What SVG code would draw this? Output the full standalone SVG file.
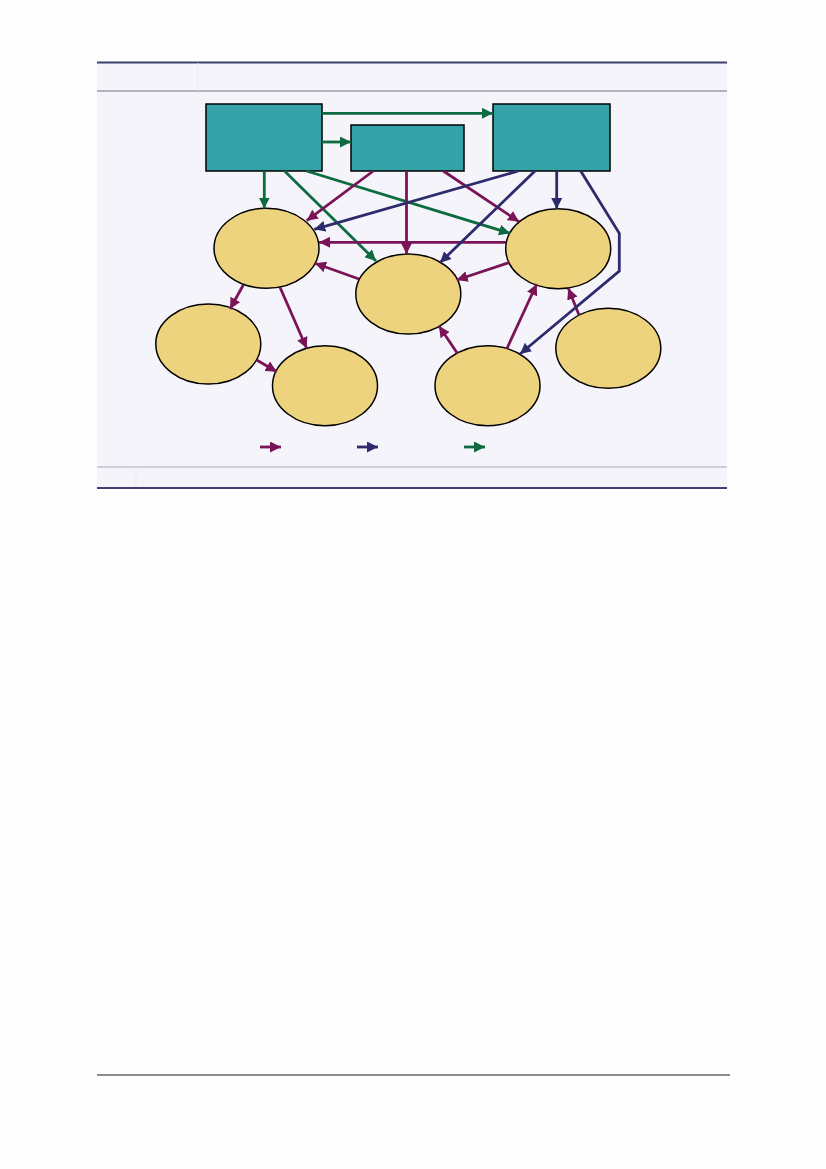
<svg xmlns="http://www.w3.org/2000/svg" width="826" height="1169" viewBox="0 0 826 1169">
<style>
.box{fill:#33a3a7;stroke:#000;stroke-width:1.5}
.ell{fill:#eed37e;stroke:#000;stroke-width:1.5}
.m{stroke:#7b1456;stroke-width:2.8;fill:none;marker-end:url(#am)}
.n{stroke:#2d2b6b;stroke-width:2.8;fill:none;marker-end:url(#an)}
.g{stroke:#0e6b41;stroke-width:2.8;fill:none;marker-end:url(#ag)}
</style>
<defs>
<marker id="am" viewBox="0 0 10 10" refX="10" refY="5" markerWidth="11" markerHeight="11" markerUnits="userSpaceOnUse" orient="auto"><path d="M0,0 L10,5 L0,10 z" fill="#7b1456"/></marker>
<marker id="an" viewBox="0 0 10 10" refX="10" refY="5" markerWidth="11" markerHeight="11" markerUnits="userSpaceOnUse" orient="auto"><path d="M0,0 L10,5 L0,10 z" fill="#2d2b6b"/></marker>
<marker id="ag" viewBox="0 0 10 10" refX="10" refY="5" markerWidth="11" markerHeight="11" markerUnits="userSpaceOnUse" orient="auto"><path d="M0,0 L10,5 L0,10 z" fill="#0e6b41"/></marker>
</defs>
<rect width="826" height="1169" fill="#fefefe"/>
<g id="panel">
<rect x="97" y="62" width="630" height="426" fill="#f4f4fa"/>
<line x1="97" y1="62.5" x2="727" y2="62.5" stroke="#3c4170" stroke-width="2"/>
<line x1="97" y1="91" x2="727" y2="91" stroke="#70708a" stroke-width="1"/>
<line x1="198" y1="63" x2="198" y2="91" stroke="#ebebf3" stroke-width="1"/>
<line x1="97" y1="467" x2="727" y2="467" stroke="#a8a8b8" stroke-width="1"/>
<line x1="136" y1="467" x2="136" y2="488" stroke="#ebebf3" stroke-width="1"/>
<line x1="97" y1="488" x2="727" y2="488" stroke="#3c4170" stroke-width="2"/>
</g>
<line x1="97" y1="1075" x2="730" y2="1075" stroke="#666" stroke-width="1.5"/>
<g id="boxA"><rect class="box" x="206" y="104" width="116" height="67"/></g>
<g id="boxB"><rect class="box" x="351" y="125" width="113" height="46"/></g>
<g id="boxC"><rect class="box" x="493" y="104" width="117" height="67"/></g>
<g id="e1"><ellipse class="ell" cx="266.5" cy="248.3" rx="52.5" ry="40"/></g>
<g id="e2"><ellipse class="ell" cx="208.3" cy="344" rx="52.5" ry="40"/></g>
<g id="e3"><ellipse class="ell" cx="325" cy="385.7" rx="52.5" ry="40"/></g>
<g id="e4"><ellipse class="ell" cx="408.3" cy="294" rx="52.5" ry="40"/></g>
<g id="e5"><ellipse class="ell" cx="558.2" cy="248.7" rx="52.5" ry="40"/></g>
<g id="e6"><ellipse class="ell" cx="487.5" cy="385.7" rx="52.5" ry="40"/></g>
<g id="e7"><ellipse class="ell" cx="608.3" cy="348.3" rx="52.5" ry="40"/></g>
<g id="connectors">
<line class="g" x1="322" y1="113.3" x2="493" y2="113.3"/>
<line class="g" x1="322" y1="142" x2="351" y2="142"/>
<line class="g" x1="264.3" y1="171" x2="264.3" y2="208.5"/>
<line class="g" x1="284.5" y1="171" x2="376" y2="261"/>
<line class="g" x1="306.5" y1="171" x2="510" y2="233.3"/>
<line class="m" x1="373.3" y1="171" x2="306.7" y2="220.7"/>
<line class="m" x1="406.5" y1="171" x2="406.5" y2="254"/>
<line class="m" x1="443.3" y1="171" x2="519" y2="221.7"/>
<line class="m" x1="506" y1="242.3" x2="319" y2="242.3"/>
<line class="m" x1="359" y1="279" x2="315" y2="263.3"/>
<line class="m" x1="509" y1="262.7" x2="456.7" y2="280"/>
<line class="m" x1="243.3" y1="285" x2="230" y2="309"/>
<line class="m" x1="280" y1="287.3" x2="306.7" y2="348.3"/>
<line class="m" x1="256.7" y1="360" x2="276.7" y2="371.7"/>
<line class="m" x1="457.3" y1="353.3" x2="439" y2="326"/>
<line class="m" x1="506.7" y1="349" x2="536.7" y2="284"/>
<line class="m" x1="579" y1="315" x2="568.3" y2="288.3"/>
<line class="n" x1="518.3" y1="171" x2="314.3" y2="229.3"/>
<line class="n" x1="535" y1="171" x2="440" y2="262.7"/>
<line class="n" x1="556.7" y1="171" x2="556.7" y2="209"/>
<polyline class="n" points="580.7,171 619.3,233.3 619.3,271 520,354"/>
</g>
<g id="legend">
<line class="m" x1="260" y1="447" x2="281" y2="447"/>
<line class="n" x1="357" y1="447" x2="378" y2="447"/>
<line class="g" x1="464" y1="447" x2="485" y2="447"/>
</g>
</svg>
